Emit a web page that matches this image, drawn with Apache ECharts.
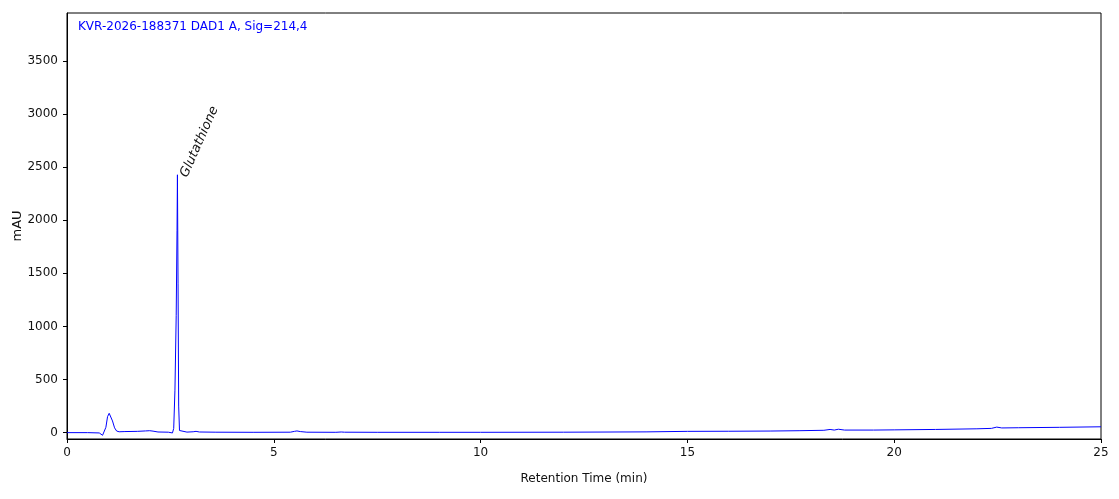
<!DOCTYPE html>
<html>
<head>
    <meta charset="utf-8">
    <title>KVR-2026-188371 DAD1 A</title>
    <style>
        html, body { margin: 0; padding: 0; background: #fff; }
        #main { width: 1119px; height: 499px; }
    </style>
</head>
<body>
    <div id="main"></div>
    <script src="https://cdn.jsdelivr.net/npm/echarts@6/dist/echarts.min.js"></script>
    <script>
    // 色谱图数据
    var retTime = [0, 0.5, 0.78, 0.82, 0.86, 0.9, 0.94, 0.98, 1.02, 1.06, 1.1, 1.15, 1.2, 1.26, 1.4, 1.7, 1.9, 2.0, 2.08, 2.2,
        2.45, 2.55, 2.58, 2.61, 2.64, 2.66, 2.67, 2.685, 2.70, 2.72, 2.76, 2.9, 3.05, 3.12, 3.2, 3.6, 4.5, 5.4, 5.5, 5.56,
        5.64, 5.8, 6.5, 6.63, 6.67, 6.71, 7.5, 9, 10, 12, 14, 15, 16, 17, 17.7, 18.3, 18.45, 18.55, 18.65, 18.8,
        19.5, 20, 21, 22, 22.35, 22.48, 22.6, 23, 24, 25];
    var signal = [0, 0, -3, -20, -25, -12, 50, 150, 182, 165, 110, 45, 15, 8, 10, 12, 16, 18, 14, 6,
        4, -3, 40, 400, 1100, 1900, 2427, 1400, 250, 20, 6, 5, 8, 12, 6, 4, 3, 4, 12, 16,
        10, 4, 3, 6, 16, 4, 3, 3, 3, 4, 7, 12, 13, 15, 18, 22, 30, 24, 32, 24,
        24, 26, 30, 36, 40, 52, 44, 46, 50, 55];

    // 峰标注
    var peakNames = ['Glutathione'];
    var peakTimes = [2.67];
    var peakHeights = [2427];

    // 刻度
    var yTicks = [0, 500, 1000, 1500, 2000, 2500, 3000, 3500];
    var xTicks = [0, 5, 10, 15, 20, 25];

    var chartTitle = 'KVR-2026-188371 DAD1 A, Sig=214,4';
    var fontName = 'DejaVu Sans';

    var lineData = [];
    for (var i = 0; i < retTime.length; i++) {
        lineData.push([retTime[i], signal[i]]);
    }
    var markData = [];
    for (var j = 0; j < peakNames.length; j++) {
        markData.push({ name: peakNames[j], coord: [peakTimes[j], peakHeights[j]] });
    }

    var option = {
        animation: false,
        title: {
            text: chartTitle,
            left: 78,
            top: 21,
            padding: 0,
            textStyle: { color: '#0000ff', fontSize: 12, fontWeight: 'normal', fontFamily: fontName }
        },
        grid: {
            left: 67,
            right: 18,
            top: 13,
            bottom: 60,
            outerBoundsMode: 'none',
            containLabel: false,
            show: true,
            borderColor: '#000',
            borderWidth: 1
        },
        xAxis: {
            type: 'value',
            min: xTicks[0],
            max: xTicks[xTicks.length - 1],
            interval: 5,
            name: 'Retention Time (min)',
            nameLocation: 'middle',
            nameGap: 34,
            nameMoveOverlap: false,
            nameTextStyle: { color: '#111', fontSize: 12, fontFamily: fontName },
            axisLine: { show: true, onZero: false, lineStyle: { color: '#000', width: 1 } },
            axisTick: { show: true, length: 4, lineStyle: { color: '#000' } },
            axisLabel: { color: '#111', fontSize: 12, fontFamily: fontName, margin: 8 },
            splitLine: { show: false }
        },
        yAxis: {
            type: 'value',
            min: -60,
            max: 3950,
            name: 'mAU',
            nameLocation: 'middle',
            nameGap: 43,
            nameMoveOverlap: false,
            nameTextStyle: { color: '#111', fontSize: 13, fontFamily: fontName },
            axisLine: { show: true, onZero: false, lineStyle: { color: '#000', width: 1 } },
            axisTick: { show: true, length: 4, lineStyle: { color: '#000' }, customValues: yTicks },
            axisLabel: {
                color: '#111', fontSize: 12, fontFamily: fontName, margin: 9, customValues: yTicks,
                formatter: function (v) { return String(v); }
            },
            splitLine: { show: false }
        },
        series: [{
            type: 'line',
            data: lineData,
            showSymbol: false,
            lineStyle: { color: '#0000ff', width: 1 },
            itemStyle: { color: '#0000ff' },
            markPoint: {
                symbol: 'circle',
                symbolSize: 1,
                itemStyle: { color: 'rgba(0,0,0,0)' },
                label: {
                    show: true,
                    formatter: '{b}',
                    position: [13, 5],
                    align: 'left',
                    verticalAlign: 'bottom',
                    rotate: 66,
                    color: '#111',
                    fontSize: 13,
                    fontStyle: 'italic',
                    fontFamily: fontName
                },
                data: markData
            }
        }]
    };

    var myChart = echarts.init(document.getElementById('main'));
    myChart.setOption(option);
    </script>
</body>
</html>
